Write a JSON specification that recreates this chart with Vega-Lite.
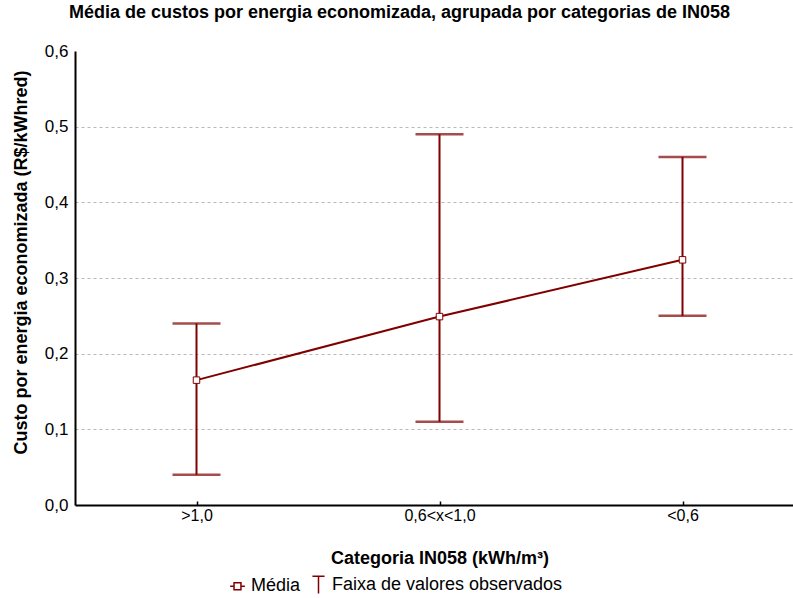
{
  "$schema": "https://vega.github.io/schema/vega-lite/v6.json",
  "autosize": "none",
  "padding": {"left": 75, "top": 51, "right": 0, "bottom": 93},
  "width": 729,
  "height": 454,
  "background": "white",
  "config": {"view": {"stroke": null}},
  "title": {
    "text": "Média de custos por energia economizada, agrupada por categorias de IN058",
    "font": "Liberation Sans",
    "fontSize": 18,
    "fontWeight": "bold",
    "color": "black",
    "anchor": "middle",
    "dx": -40,
    "offset": 20
  },
  "data": {
    "values": [
      {"categoria": ">1,0", "media": 0.165, "minimo": 0.04, "maximo": 0.24},
      {"categoria": "0,6<x<1,0", "media": 0.249, "minimo": 0.11, "maximo": 0.49},
      {"categoria": "<0,6", "media": 0.324, "minimo": 0.25, "maximo": 0.46}
    ]
  },
  "encoding": {
    "x": {
      "field": "categoria",
      "type": "nominal",
      "sort": null,
      "scale": {"type": "point", "padding": 0.5},
      "axis": {
        "title": "Categoria IN058 (kWh/m³)",
        "titleFont": "Liberation Sans",
        "titleFontSize": 18,
        "titleFontWeight": "bold",
        "titleColor": "black",
        "titlePadding": 26,
        "labelAngle": 0,
        "labelFont": "Liberation Sans",
        "labelFontSize": 16,
        "labelColor": "black",
        "labelPadding": 6,
        "tickSize": -4,
        "tickColor": "black",
        "tickWidth": 1.5,
        "domainColor": "black",
        "domainWidth": 2,
        "grid": false
      }
    }
  },
  "layer": [
    {
      "mark": {"type": "rule", "color": "#800000", "strokeWidth": 2},
      "encoding": {
        "y": {
          "field": "minimo",
          "type": "quantitative",
          "scale": {"domain": [0, 0.6], "nice": false, "zero": true},
          "axis": {
            "title": "Custo por energia economizada (R$/kWhred)",
            "titleFont": "Liberation Sans",
            "titleFontSize": 18,
            "titleFontWeight": "bold",
            "titleColor": "black",
            "titlePadding": 14,
            "titleY": 211,
            "values": [0, 0.1, 0.2, 0.3, 0.4, 0.5, 0.6],
            "labelExpr": "replace(format(datum.value, '.1f'), '.', ',')",
            "labelFont": "Liberation Sans",
            "labelFontSize": 17,
            "labelColor": "black",
            "labelPadding": 7,
            "ticks": false,
            "domainColor": "black",
            "domainWidth": 2,
            "grid": true,
            "gridColor": "#b8b8b8",
            "gridDash": [3, 3],
            "gridWidth": 1,
            "gridOpacity": {"condition": {"test": "datum.value == 0 || datum.value == 0.6", "value": 0}, "value": 1}
          }
        },
        "y2": {"field": "maximo"}
      }
    },
    {
      "mark": {"type": "tick", "color": "#800000", "thickness": 2.5, "size": 48},
      "encoding": {"y": {"field": "minimo", "type": "quantitative"}}
    },
    {
      "mark": {"type": "tick", "color": "#800000", "thickness": 2.5, "size": 48},
      "encoding": {"y": {"field": "maximo", "type": "quantitative"}}
    },
    {
      "mark": {"type": "line", "color": "#800000", "strokeWidth": 2},
      "encoding": {"y": {"field": "media", "type": "quantitative"}}
    },
    {
      "mark": {"type": "point", "size": 2, "filled": false, "color": "#800000", "strokeWidth": 0.5},
      "encoding": {
        "y": {"field": "media", "type": "quantitative"},
        "shape": {
          "datum": "Média",
          "scale": {
            "domain": ["Média", "Faixa de valores observados"],
            "range": [
              "M-0.85,0L-0.4,0M0.4,0L0.85,0M-0.4,-0.4L0.4,-0.4L0.4,0.4L-0.4,0.4Z",
              "M-0.7,-1L0.7,-1M0,-1L0,1"
            ]
          },
          "legend": {
            "title": null,
            "orient": "none",
            "legendX": 153,
            "legendY": 524,
            "direction": "horizontal",
            "symbolSize": 300,
            "symbolOpacity": 1,
            "symbolFillColor": "white",
            "symbolStrokeColor": "#800000",
            "symbolStrokeWidth": 1.5,
            "labelFont": "Liberation Sans",
            "labelFontSize": 18,
            "labelColor": "black",
            "labelLimit": 400,
            "labelOffset": 4,
            "columnPadding": 8,
            "encode": {
              "symbols": {
                "update": {
                  "stroke": {"value": "#800000"},
                  "fill": {"value": "white"},
                  "strokeWidth": {"value": 1.5},
                  "opacity": {"value": 1}
                }
              }
            }
          }
        }
      }
    },
    {
      "mark": {"type": "point", "shape": "square", "size": 42, "filled": true, "fill": "white", "stroke": "#800000", "strokeWidth": 1, "opacity": 1},
      "encoding": {"y": {"field": "media", "type": "quantitative"}}
    }
  ]
}
